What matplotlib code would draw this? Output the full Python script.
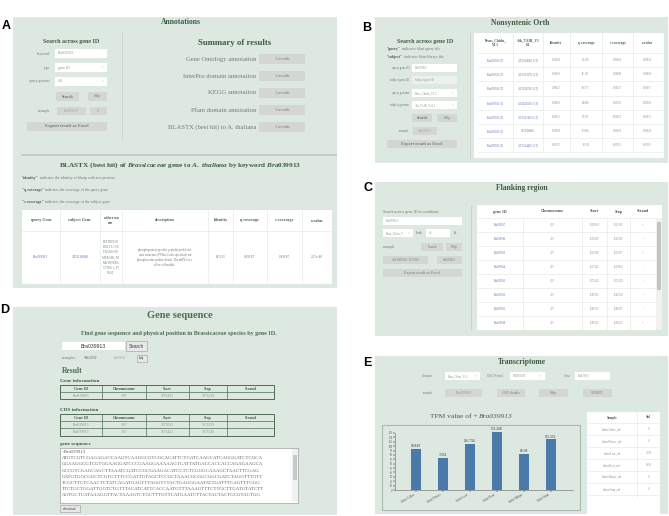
import matplotlib
matplotlib.use("Agg")
import matplotlib.pyplot as plt
from matplotlib.patches import Rectangle
import numpy as np

plt.rcParams['font.family'] = ['Liberation Serif', 'DejaVu Serif']
plt.rcParams['mathtext.fontset'] = 'custom'
plt.rcParams['mathtext.rm'] = 'Liberation Serif:bold'
plt.rcParams['mathtext.it'] = 'Liberation Serif:italic:bold'
plt.rcParams['mathtext.bf'] = 'Liberation Serif:bold'

# ---- data ----
summary_items = ["Gene Ontology annotation", "InterPro domain annotation", "KEGG annotation",
                 "Pfam domain annotation", "BLASTX (best hit) to A. thaliana"]
summary_counts = ["1 records"] * 5

blast_header = ["query Gene", "subject Gene", "other na\nme", "description", "Identity",
                "q coverage", "s coverage", "e-value"]
blast_row = ["Bra039913", "AT2G18040",
             "PEPTIDYLP\nROLYL CIS/\nTRANS ISO\nMERASE, NI\nMA-INTERA\nCTING 1, PI\nN1AT",
             "phosphoprotein-specific peptidyl prolyl cis/t\nrans isomerase (PPIase) with specificity for\n"
             "phosphoserine-proline bonds. The mRNA is c\nell-to-cell mobile.",
             "83.333", "0.99187", "0.99187", "2.67e-80"]

orth_header = ["Brass_Chiifu_\nV1.5", "Ath_TAIR_V1\n0.1", "Identity", "q coverage", "s coverage", "e-value"]
orth_query = ["Bra039913 (T)"] * 7
orth_subject = ["AT2G18040.1 (T)", "AT5G19370.1 (T)", "AT1G26550.1 (T)", "AT4G20240.1 (T)",
                "AT5G25420.1 (T)", "AT2G18040", "AT3G24410.1 (T)"]
orth_identity = ["0.99029", "0.89035", "0.98627", "0.89401", "0.89611", "0.99029", "0.83333"]
orth_qcov = ["92.130", "86.131", "80.577", "84.080", "78.531", "76.860", "83.333"]
orth_scov = ["0.99029", "0.88888", "0.88627", "0.89509", "0.88621", "0.99029", "0.83333"]
orth_evalue = ["0.99029", "0.88868", "0.99017", "0.89509", "0.89011", "0.99029", "0.83333"]

flank_header = ["gene ID", "Chromosome", "Start", "Stop", "Strand"]
flank_gene = ["Bra039917", "Bra039916", "Bra039915", "Bra039914",
              "Bra039913", "Bra039912", "Bra039911", "Bra039910"]
flank_chr = ["A07"] * 8
flank_start = ["1650954", "1659190", "1663138", "1667142", "1671422", "1681903", "1685723", "1689523"]
flank_stop = ["1652393", "1661905", "1665957", "1669014", "1672259", "1682294", "1686507", "1690513"]
flank_strand = ["+", "-", "+", "-", "-", "-", "-", "+"]

gene_info_header = ["Gene ID", "Chromosome", "Start", "Stop", "Strand"]
gene_info_rows = [["Bra039913", "A07", "1671422", "1672259", "-"]]
cds_rows = [["Bra039913", "A07", "1672025", "1672259", "-"],
            ["Bra039913", "A07", "1671422", "1671546", "-"]]
sequence_lines = [
    ">Bra039913",
    "ATGTCGTCGAGAGACCAAGTCAAGGCGTCGCACATTCTGATCAAGCATCAGGGATCTCGCA",
    "GGAAGGCGTCGTGGAAGGATCCCGAAGGAAAAAGTCATTATGACCACCACCAGAGAAGCA",
    "GCCGTCGAGCAGCTTAAATCGATCCGCGAAGACATCCTCTCGGGCAAAGCTAACTTCGAG",
    "GATGTGGCGGCTCGTGTTTCCGATTGTAGCTCCGCTAAACGCGGCGGCGATCTAGGTTTGTT",
    "TCGCTTCTCAACTCTATCAGATGAGTTTAGGTTTACTGAGGGAATATTGATTTCAGTTTGGG",
    "TTCTGCTGGATTGGTCTGTTTACATCATTCACCAATGTTTAAAGTTTCTTGCTTGATGTATCTT",
    "AGTGCTCATAAAGGTTACTAAAGTCTGCTTTGTTCATGAATCTTACTACTACTGCGTACTGG",
]

tissues = ["chiifu-Callus", "chiifu-Flower", "chiifu-Leaf", "chiifu-Root", "chiifu-Silique", "chiifu-Stem"]
tpm = [93.849, 73.84, 105.734, 133.208, 82.98, 115.532]
tpm_std = ["0", "0", "1.036", "0.821", "0", "0"]

# ---- colours ----
BG = '#dce8e0'
TITLE = '#3e5c47'
TXT = '#6f7d74'
LINK = '#5b6db0'
BTN = '#d4d6d4'
GRID = '#e6ebe8'
DGREEN = '#4d6e55'

fig = plt.figure(figsize=(6.69, 5.16), dpi=100)
ax = fig.add_axes([0, 0, 1, 1])
ax.set_xlim(0, 669)
ax.set_ylim(516, 0)
ax.axis('off')
renderer = fig.canvas.get_renderer()


def box(x0, y0, x1, y1, fc, ec='none', lw=0.5, z=1):
    ax.add_patch(Rectangle((x0, y0), x1 - x0, y1 - y0, facecolor=fc, edgecolor=ec, lw=lw, zorder=z))


def t(x, y, s, size=3, color=TXT, ha='left', va='center', **kw):
    return ax.text(x, y, s, fontsize=size, color=color, ha=ha, va=va, zorder=5, **kw)


def bold_then(x, y, b, rest, size=2.8):
    # bold lead-in followed by normal text
    tb = t(x, y, b, size=size, color='#4e5a52', fontweight='bold')
    w = tb.get_window_extent(renderer).width  # pixels == data units here
    t(x + w, y, rest, size=size)


def button(x0, y0, x1, y1, label, size=3, bold=False, color=TXT):
    box(x0, y0, x1, y1, BTN, z=2)
    t((x0 + x1) / 2, (y0 + y1) / 2, label, size=size, color=color, ha='center',
      fontweight='bold' if bold else 'normal')


def field(x0, y0, x1, y1, label, size=2.6, dropdown=False, fc='white'):
    box(x0, y0, x1, y1, fc, z=2)
    t(x0 + 3, (y0 + y1) / 2, label, size=size, color='#8a948e')
    if dropdown:
        t(x1 - 3, (y0 + y1) / 2, 'v', size=2.2, color='#b8bfba', ha='right')


def hline(x0, x1, y, c=GRID, lw=0.5):
    ax.plot([x0, x1], [y, y], color=c, lw=lw, zorder=3)


def vline(x, y0, y1, c=GRID, lw=0.5):
    ax.plot([x, x], [y0, y1], color=c, lw=lw, zorder=3)


def panel_label(x, y, s):
    ax.text(x, y, s, fontsize=9, fontweight='bold', family='Liberation Sans', ha='center', va='center')


# ================= Panel A =================
box(13, 17, 337, 288, BG, z=0)
panel_label(6, 26, 'A')
t(181, 21.5, 'Annotations', size=5.5, color=TITLE, ha='center', fontweight='bold')
t(71, 41, 'Search across gene ID', size=4.3, color=TITLE, ha='center', fontweight='bold')
for lab, y, val, dd in [('keyword', 53.5, 'Bra039913', False), ('type', 67.5, 'gene ID', True),
                        ('query genome', 81, 'All', True)]:
    t(50, y, lab, size=2.6, ha='right')
    field(55, y - 4.5, 107, y + 4.5, val, dropdown=dd)
button(56, 92, 79, 101, 'Search', size=2.9, bold=True)
button(88, 92, 107, 101, 'Help', size=2.7)
t(50, 111, 'example', size=2.6, ha='right')
button(57, 107, 86, 115, 'Bra039913', size=2.3, color='#9aa39d')
button(90, 107, 107, 115, 'ID', size=2.3, color='#9aa39d')
button(27, 122, 107, 131, 'Export result as Excel', size=3.3, bold=True)
vline(122, 32, 140, c='#c6d3ca', lw=0.6)

t(235, 43, 'Summary of results', size=6.3, color=TITLE, ha='center', fontweight='bold')
for i, (item, cnt) in enumerate(zip(summary_items, summary_counts)):
    y = 59 + i * 17
    t(256, y, item, size=4.8, ha='right')
    button(259, y - 5, 305, y + 5, cnt, size=2.9)
hline(22, 336, 155, c='#c0cdc4', lw=1.4)

t(180, 165, r'BLASTX (best hit) of $\mathit{Brassicaceae}$ gene to $\mathit{A.\ thaliana}$ by keyword $\mathit{Bra039913}$',
  size=5.2, color=TITLE, ha='center', fontweight='bold')
bold_then(22, 178, '"identity"', ' indicates the identity of blastp with two proteins')
bold_then(22, 190, '"q coverage"', ' indicates the coverage of the query gene')
bold_then(22, 202, '"s coverage"', ' indicates the coverage of the subject gene')

box(22, 210, 332, 284, 'white', z=1)
bcols = [22, 60, 100, 122, 208, 233, 267, 302, 332]
for x in bcols[1:-1]:
    vline(x, 210, 284)
hline(22, 332, 231)
for i, (h, v) in enumerate(zip(blast_header, blast_row)):
    cx = (bcols[i] + bcols[i + 1]) / 2
    t(cx, 220.5, h, size=3.0, color='#4e5a52', ha='center', linespacing=1.1, fontweight='bold')
    col = LINK if i < 2 else TXT
    t(cx, 257.5, v, size=2.2 if i in (2, 3) else 2.4, color=col, ha='center', linespacing=1.35)

# ================= Panel B =================
box(375, 17, 668, 163, BG, z=0)
panel_label(367, 28, 'B')
t(520, 23, 'Nonsyntenic Orth', size=5.5, color=TITLE, ha='center', fontweight='bold')
t(425, 41, 'Search across gene ID', size=4.3, color=TITLE, ha='center', fontweight='bold')
bold_then(387, 49, '"query"', ' indicates blast query file')
bold_then(387, 57, '"subject"', ' indicates blast library file')
for lab, y, val, dd, fc in [('query gene ID', 68, 'Bra039913', False, 'white'),
                            ('subject gene ID', 80, 'Subject gene ID', False, '#edf1ee'),
                            ('query genome', 93, 'Brass_Chiifu_V1.5', True, 'white'),
                            ('subject genome', 105, 'Ath_TAIR_V10.1', True, 'white')]:
    t(409, y, lab, size=2.2, ha='right')
    field(412, y - 4, 457, y + 4, val, size=2.1, dropdown=dd, fc=fc)
button(412, 114, 432, 122, 'Search', size=2.8, bold=True)
button(437, 114, 457, 122, 'Help', size=2.6)
t(409, 131, 'example', size=2.2, ha='right')
button(413, 127, 437, 135, 'Bra039913', size=2.1, color='#9aa39d')
button(387, 140, 457, 148, 'Export result as Excel', size=3.2, bold=True)
vline(470, 33, 158, c='#c6d3ca', lw=0.6)

box(474, 33, 664, 158, 'white', z=1)
ocols = [478, 513, 543, 570, 602, 633, 662]
for x in ocols[1:-1]:
    vline(x, 33, 152)
hline(478, 662, 53)
orows = [orth_query, orth_subject, orth_identity, orth_qcov, orth_scov, orth_evalue]
for i, h in enumerate(orth_header):
    cx = (ocols[i] + ocols[i + 1]) / 2
    t(cx, 43, h, size=2.6, color='#4e5a52', ha='center', linespacing=1.1, fontweight='bold')
    for r in range(7):
        y = 60 + r * 14.2
        t(cx, y, orows[i][r], size=2.0, color=LINK if i < 2 else '#8a948e', ha='center')
for r in range(1, 7):
    hline(478, 662, 53 + r * 14.2)
hline(478, 662, 152.4)

# ================= Panel C =================
box(375, 182, 668, 336, BG, z=0)
panel_label(368, 188, 'C')
t(522, 188, 'Flanking region', size=5.5, color=TITLE, ha='center', fontweight='bold')
t(383, 212, 'Search across gene ID or coordinate', size=2.8)
field(383, 217, 462, 225, 'Bra039913', size=2.1)
field(383, 229, 413, 237, 'Brass_Chiifu_V', size=2.0, dropdown=True)
t(416, 233, 'flank', size=2.4)
field(426, 229, 450, 237, '40', size=2.3)
t(454, 233, 'kb', size=2.4)
t(383, 247, 'example', size=2.6)
button(421, 243, 443, 251, 'Search', size=2.5)
button(446, 243, 462, 251, 'Help', size=2.5)
button(383, 256, 428, 264, 'A03:1800000..3270000', size=2.1)
button(437, 256, 462, 264, 'Bra039913', size=2.1)
button(383, 269, 462, 277, 'Export result as Excel', size=3.0)
vline(471, 205, 330, c='#c6d3ca', lw=0.6)

box(477, 205, 662, 330, 'white', z=1)
ccols = [477, 523, 582, 607, 630, 656]
fvals = [flank_gene, flank_chr, flank_start, flank_stop, flank_strand]
for i, h in enumerate(flank_header):
    cx = (ccols[i] + ccols[i + 1]) / 2
    t(cx, 211.5, h, size=3.0, color='#4e5a52', ha='center', fontweight='bold')
    for r in range(8):
        y = 225 + r * 14
        t(cx, y, fvals[i][r], size=2.0, color=LINK if i == 0 else '#8a948e', ha='center')
for x in ccols[1:-1]:
    vline(x, 218, 330)
for r in range(8):
    hline(477, 656, 218 + r * 14)
box(656, 218, 662, 330, '#f1f1f1', z=2)
box(656.8, 222, 661.2, 290, '#c4c4c4', z=3)

# ================= Panel D =================
box(13, 307, 337, 515, BG, z=0)
panel_label(5, 310, 'D')
t(180, 316, 'Gene sequence', size=7.5, color=DGREEN, ha='center', fontweight='bold')
t(179, 333, 'Find gene sequence and physical position in Brassicaceae species by gene ID.',
  size=4.3, color=DGREEN, ha='center', fontweight='bold')
box(62, 342, 125, 350, 'white', z=2)
t(93.5, 346, 'Bra039913', size=3.7, color='#333333', ha='center', family='Liberation Sans')
box(126, 341, 147, 351, '#e8e8e8', ec='#9a9a9a', lw=0.4, z=2)
t(136.5, 346, 'Search', size=3.4, color='#333333', ha='center', family='Liberation Sans')
t(62, 358, 'examples:', size=2.6)
t(83, 358, 'AT4G22960', size=2.0, color='#555555', style='italic')
t(114, 358, 'Bra039913', size=2.0, color='#9aa39d')
box(137, 354.5, 147, 361.5, '#e8e8e8', ec='#9a9a9a', lw=0.4, z=2)
t(142, 358, 'help', size=2.2, color='#333333', ha='center')
t(62, 371, 'Result', size=5.5, color=DGREEN, fontweight='bold')
t(60, 381, 'Gene information', size=3.7, color='#3f5a45', fontweight='bold')

dcols = [60, 102, 146, 189, 227, 274]


def dtable(y0, rows):
    h = 7.2
    y1 = y0 + h * (len(rows) + 1)
    box(60, y0, 274, y1, 'none', ec=DGREEN, lw=0.7, z=3)
    for x in dcols[1:-1]:
        vline(x, y0, y1, c=DGREEN, lw=0.5)
    for r in range(1, len(rows) + 1):
        hline(60, 274, y0 + r * h, c=DGREEN, lw=0.5)
    for i, hd in enumerate(gene_info_header):
        cx = (dcols[i] + dcols[i + 1]) / 2
        t(cx, y0 + h / 2, hd, size=2.9, color='#3f5a45', ha='center', fontweight='bold')
        for r, row in enumerate(rows):
            t(cx, y0 + h * (r + 1.5), row[i], size=2.7, color='#8a948e', ha='center')


dtable(385, gene_info_rows)
t(60, 410, 'CDS information', size=3.7, color='#3f5a45', fontweight='bold')
dtable(414, cds_rows)
t(60, 444, 'gene sequence', size=3.7, color='#3f5a45', fontweight='bold')
box(60, 448, 298, 503, 'white', ec='#9aa09c', lw=0.5, z=2)
box(292, 449, 297.5, 502, '#f1f1f1', z=3)
box(292.8, 455, 296.8, 480, '#c9c9c9', z=4)
for k, line in enumerate(sequence_lines):
    t(62, 452 + k * 6.2, line, size=3.55, color='#555c57')
box(60, 505, 80, 512, '#e8e8e8', ec='#9a9a9a', lw=0.4, z=2)
t(70, 508.5, 'download', size=2.4, color='#333333', ha='center')

# ================= Panel E =================
box(375, 356, 668, 514, BG, z=0)
panel_label(367, 363, 'E')
t(522, 361.5, 'Transcriptome', size=5.5, color=TITLE, ha='center', fontweight='bold')
t(433, 376, 'Genome', size=2.4, ha='right')
field(445, 372, 480, 380, 'Brass_Chiifu_V1.5', size=1.9, dropdown=True)
t(503, 376, 'GEO Serial', size=2.4, ha='right')
field(510, 372, 545, 380, 'GSE000000', size=1.9, dropdown=True)
t(571, 376, 'Gene', size=2.4, ha='right')
field(575, 372, 610, 380, 'Bra039913', size=1.9)
t(433, 393, 'example', size=2.2, ha='right')
button(445, 389, 482, 397, 'Bra039913', size=2.6, color='#8a948e')
button(497, 389, 525, 397, 'GEO details', size=2.6)
button(539, 389, 568, 397, 'Help', size=2.6)
button(583, 389, 612, 397, 'SUBMIT', size=2.4)
t(479, 416, 'TPM value of + ', size=5.4, color='#4a5a50', ha='right')
t(479, 416, 'Bra039913', size=5.4, color='#4a5a50', ha='left', style='italic')
box(382, 425, 580, 510, 'none', ec='#a9b9ae', lw=0.8, z=2)

bax = fig.add_axes([395 / 669, 1 - 490 / 516, 178 / 669, (57 * 135 / 130) / 516])
bax.set_facecolor('none')
xs = np.arange(len(tissues))
bars = bax.bar(xs, tpm, width=0.37, color='#4a7aaa')
for x, v in zip(xs, tpm):
    bax.text(x, v + 1.5, f'{v:g}', ha='center', va='bottom', fontsize=2.6, color='#333333')
bax.set_xlim(-0.78, 5.82)
bax.set_ylim(0, 135)
bax.set_yticks(np.arange(0, 131, 10))
bax.set_xticks(xs)
bax.set_xticklabels(tissues, rotation=30, ha='right', fontsize=2.2, color='#555555')
bax.tick_params(axis='y', labelsize=2.0, length=1.2, width=0.3, pad=0.6, labelcolor='#555555')
bax.tick_params(axis='x', length=1.2, width=0.3, pad=0.6)
for s in ['top', 'right']:
    bax.spines[s].set_visible(False)
bax.spines['left'].set_bounds(0, 130)
bax.spines['left'].set_linewidth(0.4)
bax.spines['bottom'].set_linewidth(0.4)
bax.spines['left'].set_color('#666666')
bax.spines['bottom'].set_color('#666666')

box(587, 412, 660, 514, 'white', z=1)
vline(637, 412, 497)
hline(587, 660, 423)
t(612, 417.5, 'Sample', size=2.4, color='#4e5a52', ha='center', fontweight='bold')
t(648.5, 417.5, 'Std', size=2.4, color='#4e5a52', ha='center', fontweight='bold')
for r, (s, sd) in enumerate(zip(tissues, tpm_std)):
    y = 429 + r * 12
    t(612, y, s + '_std', size=2.0, ha='center', color='#8a948e')
    t(648.5, y, sd, size=2.0, ha='center', color='#8a948e')
    hline(587, 660, y + 6)

fig.savefig('out.png', dpi=100)
